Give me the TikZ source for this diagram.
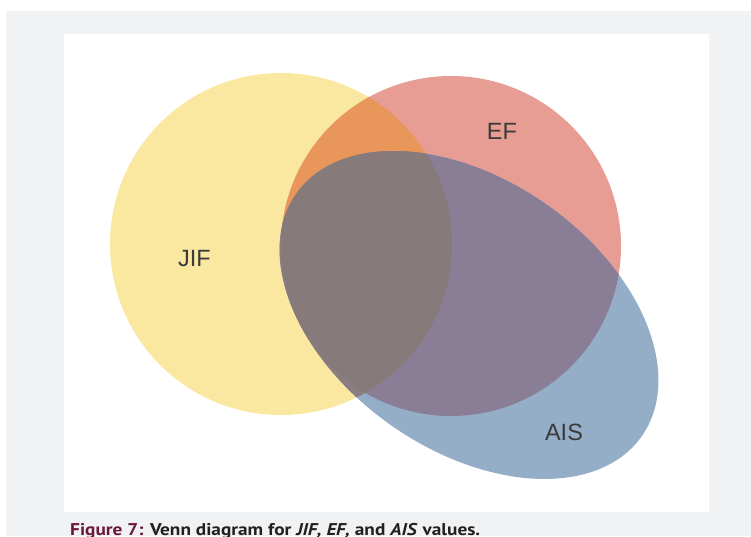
\documentclass[tikz,border=0pt]{standalone}
\usepackage{graphicx}
\usepackage{fontspec}
\setmainfont{Liberation Sans}
\newfontfamily\capfont{PT Sans}
\definecolor{bggray}{HTML}{F1F2F4}
\definecolor{cY}{HTML}{FAE8A0}
\definecolor{cR}{HTML}{E89D94}
\definecolor{cB}{HTML}{94AEC8}
\definecolor{cYR}{HTML}{E8965A}
\definecolor{cYB}{HTML}{8B7D80}
\definecolor{cRB}{HTML}{8A7D96}
\definecolor{cYRB}{HTML}{877A7A}
\definecolor{lbltxt}{HTML}{3A3A3A}
\definecolor{capred}{HTML}{6B1838}
\definecolor{captxt}{HTML}{231F20}
\begin{document}
\begin{tikzpicture}[x=1pt,y=-1pt,
  setlabel/.style={inner sep=0pt, text=lbltxt, font=\fontsize{23.5}{28}\selectfont},
  aisrot/.style={rotate around={-35:(469,315)}}]
\useasboundingbox (0,0) rectangle (751,536);
\fill[white] (0,0) rectangle (751,536);
\fill[bggray] (6,11) rectangle (751,536);
\fill[white] (64,34) rectangle (709,512);
\def\jifset{(281,244) circle [radius=171pt]}
\def\efset{(451,246) circle [radius=170pt]}
\def\aisset{(469,315) ellipse [x radius=211pt, y radius=135pt]}
% single sets
\fill[cY] \jifset;
\fill[cR] \efset;
\begin{scope}[aisrot]\fill[cB] \aisset;\end{scope}
% JIF & EF
\begin{scope}\clip \jifset; \fill[cYR] \efset;\end{scope}
% JIF & AIS
\begin{scope}\clip \jifset; \begin{scope}[aisrot]\fill[cYB] \aisset;\end{scope}\end{scope}
% EF & AIS
\begin{scope}\clip \efset; \begin{scope}[aisrot]\fill[cRB] \aisset;\end{scope}\end{scope}
% all three
\begin{scope}\clip \jifset; \clip \efset; \begin{scope}[aisrot]\fill[cYRB] \aisset;\end{scope}\end{scope}
% labels
\node[setlabel] (jif) at (194.5,259) {JIF};
\node[setlabel] (ef) at (502,131) {EF};
\node[setlabel] (ais) at (564,432) {AIS};
% caption
\node[anchor=base west, inner sep=0pt, text=captxt] (caption) at (70,535)
  {\capfont\bfseries\fontsize{17}{20}\selectfont\resizebox{410pt}{\height}{\textcolor{capred}{Figure 7:} Venn diagram for \textit{JIF, EF,} and \textit{AIS} values.}};
\end{tikzpicture}
\end{document}
